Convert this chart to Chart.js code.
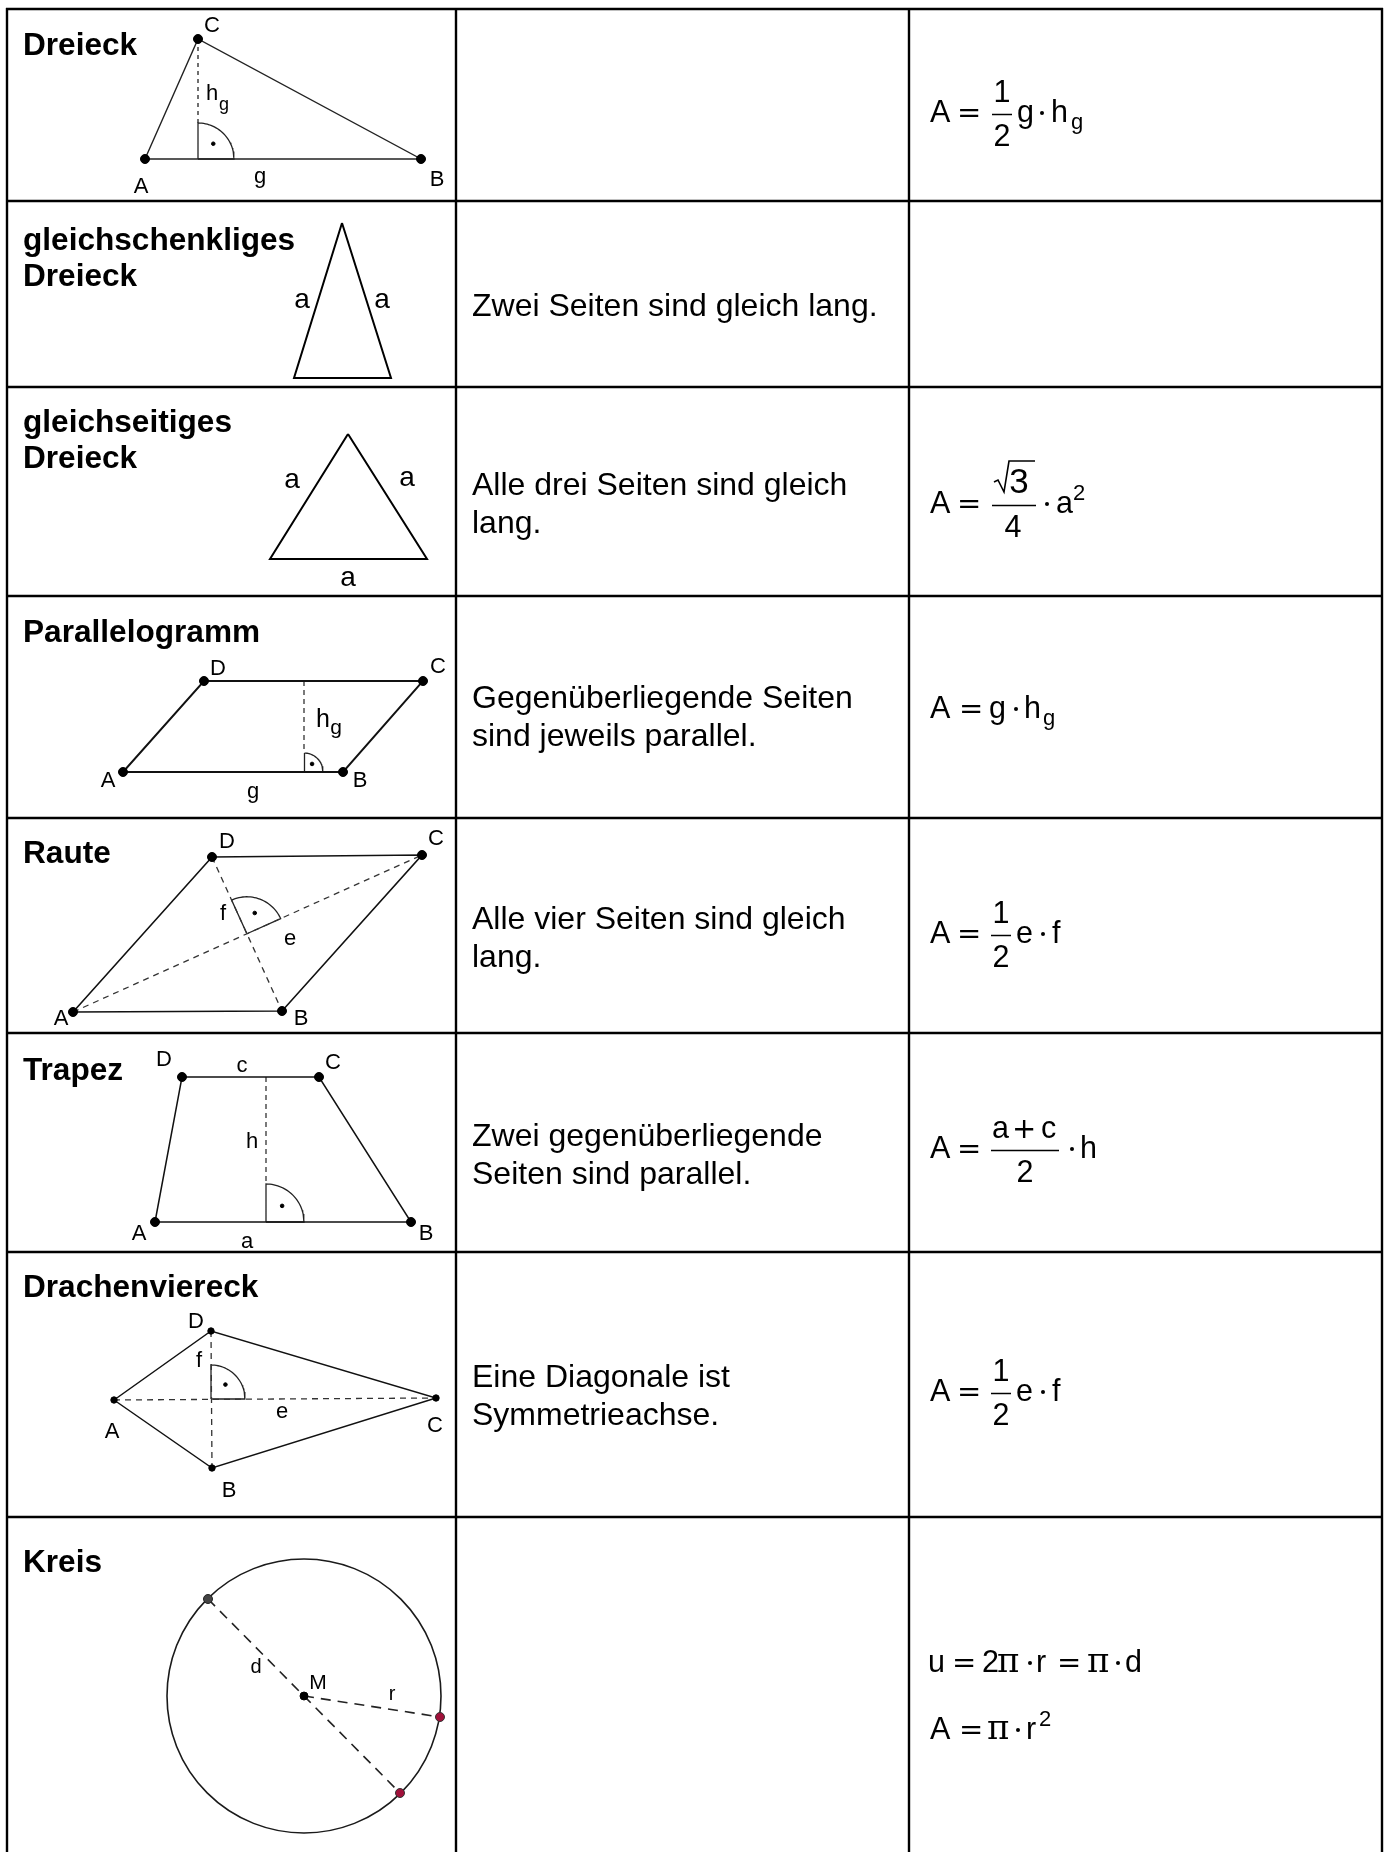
<!DOCTYPE html>
<html><head><meta charset="utf-8">
<script src="https://cdn.jsdelivr.net/npm/chart.js@4.4.1/dist/chart.umd.min.js"></script>
<style>html,body{margin:0;padding:0;background:#fff}canvas{display:block}</style>
</head><body>
<canvas id="c" width="1392" height="1852"></canvas>
<script>
// ---------- table grid ----------
const spaltenX = [7, 456, 909, 1382];
const zeilenY = [9, 201, 387, 596, 818, 1033, 1252, 1517, 1852];

// ---------- texts ----------
const titel = [['Dreieck'], ['gleichschenkliges', 'Dreieck'], ['gleichseitiges', 'Dreieck'], ['Parallelogramm'], ['Raute'], ['Trapez'], ['Drachenviereck'], ['Kreis']];
const eigenschaften = [[], ['Zwei Seiten sind gleich lang.'], ['Alle drei Seiten sind gleich', 'lang.'], ['Gegenüberliegende Seiten', 'sind jeweils parallel.'], ['Alle vier Seiten sind gleich', 'lang.'], ['Zwei gegenüberliegende', 'Seiten sind parallel.'], ['Eine Diagonale ist', 'Symmetrieachse.'], []];

// ---------- figures (vertex coordinates) ----------
const dreieckABC = [[145, 159], [421, 159], [198, 39]];
const dreieckWinkel = [198, 159, 36, -90, 0];
const schenkelDreieck = [[342, 223], [294, 378], [391, 378]];
const seitigDreieck = [[348, 434], [270, 559], [427, 559]];
const paraABCD = [[123, 772], [343, 772], [423, 681], [204, 681]];
const paraWinkel = [304, 772, 19, -90, 0];
const rauteABCD = [[73, 1012], [282, 1011], [422, 855], [212, 857]];
const rauteRadius = 37;
const trapezABCD = [[155, 1222], [411, 1222], [319, 1077], [182, 1077]];
const trapezWinkel = [266, 1222, 38, -90, 0];
const drachenABCD = [[114, 1400], [212, 1468], [436, 1398], [211, 1331]];
const drachenWinkel = [211, 1399, 34, -90, 0];
const kreisM = [304, 1696];
const kreisR = 137;
const kreisPunkte = [[208, 1599], [400, 1793], [440, 1717]];

// ---------- helpers ----------
const toXY = pts => pts.map(p => ({x: p[0], y: p[1]}));
const zu = pts => pts.concat([pts[0]]);
function linie(pts, w, dash, col) {
  return {type: 'scatter', data: toXY(pts), showLine: true, pointRadius: 0, borderColor: col || '#111',
    borderWidth: w || 1.5, borderDash: dash || [], fill: false, tension: 0, clip: false, order: 2,
    borderCapStyle: 'butt', borderJoinStyle: 'miter'};
}
function punkte(pts, r, fill, border) {
  return {type: 'scatter', data: toXY(pts), showLine: false, pointRadius: r, pointBackgroundColor: fill || '#000',
    pointBorderColor: border || '#000', pointBorderWidth: 1, clip: false, order: 0};
}
function sektor(cx, cy, r, a0, a1) {
  const pts = [[cx, cy]];
  const n = 30;
  for (let i = 0; i <= n; i++) {
    const a = (a0 + (a1 - a0) * i / n) * Math.PI / 180;
    pts.push([cx + r * Math.cos(a), cy + r * Math.sin(a)]);
  }
  pts.push([cx, cy]);
  return pts;
}
function winkelPunkt(w) {
  const a = (w[3] + w[4]) / 2 * Math.PI / 180;
  return [w[0] + 0.6 * w[2] * Math.cos(a), w[1] + 0.6 * w[2] * Math.sin(a)];
}
function schnitt(p1, p2, p3, p4) {
  const d1 = [p2[0] - p1[0], p2[1] - p1[1]], d2 = [p4[0] - p3[0], p4[1] - p3[1]];
  const den = d1[0] * d2[1] - d1[1] * d2[0];
  const t = ((p3[0] - p1[0]) * d2[1] - (p3[1] - p1[1]) * d2[0]) / den;
  return [p1[0] + t * d1[0], p1[1] + t * d1[1]];
}
const ang = (o, p) => Math.atan2(p[1] - o[1], p[0] - o[0]) * 180 / Math.PI;

// ---------- datasets ----------
const ds = [];
// table
spaltenX.forEach(x => ds.push(linie([[x, zeilenY[0] - 1], [x, zeilenY[zeilenY.length - 1]]], 2.4, [], '#000')));
zeilenY.slice(0, -1).forEach(y => ds.push(linie([[spaltenX[0] - 1, y], [spaltenX[spaltenX.length - 1] + 1, y]], 2.4, [], '#000')));

// Dreieck
ds.push(linie(zu(dreieckABC), 1.4, [], '#222'));
ds.push(linie([dreieckABC[2], [dreieckWinkel[0], dreieckWinkel[1] - dreieckWinkel[2]]], 1.3, [4, 4], '#222'));
ds.push(linie(sektor(...dreieckWinkel), 1.3, [], '#222'));
ds.push(punkte(dreieckABC, 4.5));
ds.push(punkte([winkelPunkt(dreieckWinkel)], 1.8));

// gleichschenklig / gleichseitig
ds.push(linie(zu(schenkelDreieck), 2, [], '#000'));
ds.push(linie(zu(seitigDreieck), 2, [], '#000'));

// Parallelogramm
ds.push(linie(zu(paraABCD), 1.9, [], '#111'));
ds.push(linie([[paraWinkel[0], paraABCD[3][1]], [paraWinkel[0], paraWinkel[1] - paraWinkel[2]]], 1.3, [5, 4], '#333'));
ds.push(linie(sektor(...paraWinkel), 1.3, [], '#222'));
ds.push(punkte(paraABCD, 4.5));
ds.push(punkte([winkelPunkt(paraWinkel)], 1.8));

// Raute
const rI = schnitt(rauteABCD[0], rauteABCD[2], rauteABCD[3], rauteABCD[1]);
const rauteWinkel = [rI[0], rI[1], rauteRadius, ang(rI, rauteABCD[3]), ang(rI, rauteABCD[2])];
ds.push(linie(zu(rauteABCD), 1.6, [], '#111'));
ds.push(linie([rauteABCD[0], rauteABCD[2]], 1.3, [6, 5], '#333'));
ds.push(linie([rauteABCD[3], rauteABCD[1]], 1.3, [6, 5], '#333'));
ds.push(linie(sektor(...rauteWinkel), 1.3, [], '#222'));
ds.push(punkte(rauteABCD, 4.5));
ds.push(punkte([winkelPunkt(rauteWinkel)], 1.8));

// Trapez
ds.push(linie(zu(trapezABCD), 1.5, [], '#111'));
ds.push(linie([[trapezWinkel[0], trapezABCD[3][1]], [trapezWinkel[0], trapezWinkel[1] - trapezWinkel[2]]], 1.3, [5, 4], '#333'));
ds.push(linie(sektor(...trapezWinkel), 1.3, [], '#222'));
ds.push(punkte(trapezABCD, 4.5));
ds.push(punkte([winkelPunkt(trapezWinkel)], 1.8));

// Drachenviereck
ds.push(linie(zu(drachenABCD), 1.5, [], '#111'));
ds.push(linie([drachenABCD[0], drachenABCD[2]], 1.3, [6, 5], '#333'));
ds.push(linie([drachenABCD[3], drachenABCD[1]], 1.3, [6, 5], '#333'));
ds.push(linie(sektor(...drachenWinkel), 1.3, [], '#222'));
ds.push(punkte(drachenABCD, 3.2));
ds.push(punkte([winkelPunkt(drachenWinkel)], 1.8));

// Kreis
ds.push({type: 'scatter', data: toXY([kreisM]), showLine: false, pointRadius: kreisR, pointBackgroundColor: 'rgba(0,0,0,0)',
  pointBorderColor: '#1a1a1a', pointBorderWidth: 1.6, clip: false, order: 3});
ds.push(linie([kreisPunkte[0], kreisPunkte[1]], 1.6, [10, 7], '#222'));
ds.push(linie([kreisM, kreisPunkte[2]], 1.6, [10, 7], '#222'));
ds.push(punkte([kreisPunkte[0]], 4.5, '#444', '#222'));
ds.push(punkte(kreisPunkte.slice(1), 4.5, '#a0103a', '#333'));
ds.push(punkte([kreisM], 4, '#000', '#000'));

// ---------- text layout ----------
const SANS = '"Liberation Sans", Arial, sans-serif';
const titelBasis = [55, 250, 432, 642, 863, 1080, 1297, 1572];
const beschrBasis = [0, 316, 495, 708, 929, 1146, 1387, 0];
const textX = [23, 472, 930];

const eckLabels = [
  ['C', 212, 32, 22], ['A', 141, 193, 22], ['B', 437, 186, 22], ['g', 260, 183, 22], ['h', 212, 100, 22], ['g', 224, 110, 18],
  ['a', 302, 308, 28], ['a', 382, 308, 28],
  ['a', 292, 488, 28], ['a', 407, 486, 28], ['a', 348, 586, 28],
  ['D', 218, 675, 22], ['C', 438, 673, 22], ['A', 108, 787, 22], ['B', 360, 787, 22], ['g', 253, 798, 22], ['h', 323, 727, 25], ['g', 336, 734, 21],
  ['D', 227, 848, 22], ['C', 436, 845, 22], ['A', 61, 1025, 22], ['B', 301, 1025, 22], ['f', 223, 920, 22], ['e', 290, 945, 22],
  ['D', 164, 1066, 22], ['c', 242, 1072, 22], ['C', 333, 1069, 22], ['h', 252, 1148, 22], ['A', 139, 1240, 22], ['a', 247, 1248, 22], ['B', 426, 1240, 22],
  ['D', 196, 1328, 22], ['f', 199, 1367, 22], ['A', 112, 1438, 22], ['e', 282, 1418, 22], ['C', 435, 1432, 22], ['B', 229, 1497, 22],
  ['d', 256, 1673, 20], ['M', 318, 1689, 21], ['r', 392, 1700, 20]
];

// formulas: [baseline, tokens]; token dx relative to formula start
const formeln = [
  [122, [['t', 'A', 0], ['op', '=', 27], ['bar', 20, 62], ['num', '1', 72], ['den', '2', 72], ['t', 'g', 87], ['dot', '', 112], ['t', 'h', 121], ['sub', 'g', 141]]],
  [513, [['t', 'A', 0], ['op', '=', 27], ['bar', 44, 62], ['sqrt', '3', 89], ['den', '4', 83], ['dot', '', 117], ['t', 'a', 126], ['sup', '2', 143]]],
  [718, [['t', 'A', 0], ['op', '=', 29], ['t', 'g', 59], ['dot', '', 86], ['t', 'h', 94], ['sub', 'g', 113]]],
  [943, [['t', 'A', 0], ['op', '=', 27], ['bar', 20, 61], ['num', '1', 71], ['den', '2', 71], ['t', 'e', 86], ['dot', '', 113], ['t', 'f', 122]]],
  [1158, [['t', 'A', 0], ['op', '=', 27], ['bar', 68, 61], ['numl', 'a', 62], ['opn', '+', 82], ['numl', 'c', 111], ['den', '2', 95], ['dot', '', 142], ['t', 'h', 150]]],
  [1401, [['t', 'A', 0], ['op', '=', 27], ['bar', 20, 61], ['num', '1', 71], ['den', '2', 71], ['t', 'e', 86], ['dot', '', 113], ['t', 'f', 122]]],
  [1672, [['t', 'u', -2], ['op', '=', 22], ['t', '2', 52], ['pi', 'π', 67], ['dot', '', 100], ['t', 'r', 106], ['op', '=', 127], ['pi', 'π', 157], ['dot', '', 188], ['t', 'd', 195]]],
  [1739, [['t', 'A', 0], ['op', '=', 29], ['pi', 'π', 57], ['dot', '', 88], ['t', 'r', 96], ['sup', '2', 109]]]
];

const FS = 30.5;
const hintergrund = {
  id: 'hintergrund',
  beforeDraw(chart) {
    const ctx = chart.ctx;
    ctx.save(); ctx.fillStyle = '#fff'; ctx.fillRect(0, 0, chart.width, chart.height); ctx.restore();
  }
};
const texte = {
  id: 'texte',
  afterDraw(chart) {
    const ctx = chart.ctx, sx = chart.scales.x, sy = chart.scales.y;
    const X = v => sx.getPixelForValue(v), Y = v => sy.getPixelForValue(v);
    ctx.save();
    ctx.fillStyle = '#000';
    ctx.textBaseline = 'alphabetic';
    // titles
    ctx.textAlign = 'left';
    ctx.font = 'bold 31.6px ' + SANS;
    titel.forEach((lines, i) => lines.forEach((s, j) => ctx.fillText(s, X(textX[0]), Y(titelBasis[i] + j * 36))));
    // properties
    ctx.font = '32px ' + SANS;
    eigenschaften.forEach((lines, i) => lines.forEach((s, j) => ctx.fillText(s, X(textX[1]), Y(beschrBasis[i] + j * 38))));
    // figure labels
    ctx.textAlign = 'center';
    eckLabels.forEach(l => { ctx.font = l[3] + 'px ' + SANS; ctx.fillText(l[0], X(l[1]), Y(l[2])); });
    // formulas
    formeln.forEach(f => {
      const b = f[0];
      f[1].forEach(tk => {
        const [k, s, a] = tk;
        const x0 = textX[2];
        ctx.strokeStyle = '#000';
        if (k === 't') { ctx.textAlign = 'left'; ctx.font = FS + 'px ' + SANS; ctx.fillText(s, X(x0 + a), Y(b)); }
        else if (k === 'op') { ctx.textAlign = 'left'; ctx.font = '29px "DejaVu Sans"'; ctx.fillText(s, X(x0 + a), Y(b)); }
        else if (k === 'opn') { ctx.textAlign = 'left'; ctx.font = '29px "DejaVu Sans"'; ctx.fillText(s, X(x0 + a), Y(b - 20)); }
        else if (k === 'pi') { ctx.textAlign = 'left'; ctx.font = '34px "DejaVu Serif", serif'; ctx.fillText(s, X(x0 + a), Y(b)); }
        else if (k === 'dot') { ctx.beginPath(); ctx.arc(X(x0 + a), Y(b - 9), 2, 0, Math.PI * 2); ctx.fill(); }
        else if (k === 'sub') { ctx.textAlign = 'left'; ctx.font = '22px ' + SANS; ctx.fillText(s, X(x0 + a), Y(b + 7)); }
        else if (k === 'sup') { ctx.textAlign = 'left'; ctx.font = '22px ' + SANS; ctx.fillText(s, X(x0 + a), Y(b - 13)); }
        else if (k === 'bar') {
          ctx.lineWidth = 1.5; ctx.beginPath();
          ctx.moveTo(X(x0 + tk[2]), Y(b - 8) + 0.5); ctx.lineTo(X(x0 + tk[2] + tk[1]), Y(b - 8) + 0.5); ctx.stroke();
        }
        else if (k === 'num') { ctx.textAlign = 'center'; ctx.font = FS + 'px ' + SANS; ctx.fillText(s, X(x0 + a), Y(b - 20)); }
        else if (k === 'numl') { ctx.textAlign = 'left'; ctx.font = FS + 'px ' + SANS; ctx.fillText(s, X(x0 + a), Y(b - 20)); }
        else if (k === 'den') { ctx.textAlign = 'center'; ctx.font = FS + 'px ' + SANS; ctx.fillText(s, X(x0 + a), Y(b + 24)); }
        else if (k === 'sqrt') {
          ctx.textAlign = 'center'; ctx.font = '35px ' + SANS; ctx.fillText(s, X(x0 + a), Y(b - 20));
          ctx.lineWidth = 1.6; ctx.lineJoin = 'miter'; ctx.beginPath();
          const pts = [[a - 25, -31], [a - 21, -33], [a - 15, -21], [a - 10, -52], [a + 16, -52]];
          pts.forEach((p, i) => { const px = X(x0 + p[0]), py = Y(b + p[1]); i ? ctx.lineTo(px, py) : ctx.moveTo(px, py); });
          ctx.stroke();
        }
      });
    });
    ctx.restore();
  }
};

new Chart(document.getElementById('c'), {
  type: 'scatter',
  data: {datasets: ds},
  options: {
    responsive: false, animation: false, events: [],
    layout: {padding: 0, autoPadding: false},
    plugins: {legend: {display: false}, tooltip: {enabled: false}},
    scales: {
      x: {type: 'linear', min: 0, max: 1392, display: false},
      y: {type: 'linear', min: 0, max: 1852, reverse: true, display: false}
    }
  },
  plugins: [hintergrund, texte]
});
</script>
</body></html>
